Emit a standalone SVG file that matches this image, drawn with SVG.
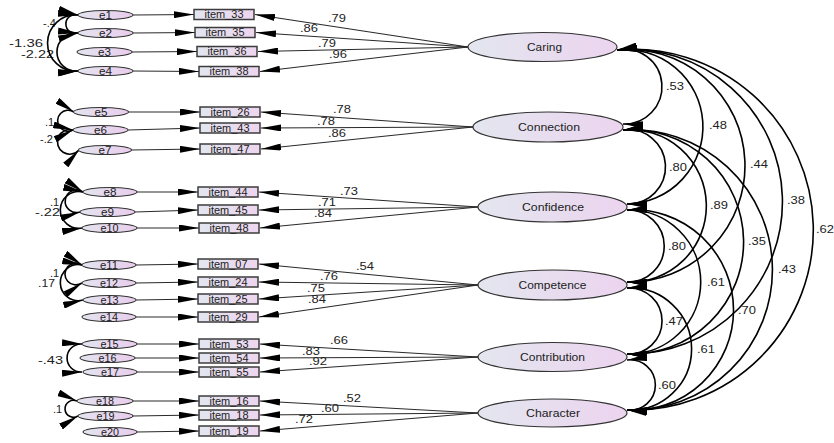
<svg xmlns="http://www.w3.org/2000/svg" width="834" height="443" viewBox="0 0 834 443">
<style>
text{font-family:"Liberation Sans",Arial,sans-serif;fill:#222}
.v{font-size:11px;text-anchor:middle}
.cv{font-size:11px}
.it{font-size:10.5px;text-anchor:middle}
.el{font-size:10.5px;text-anchor:middle}
.lt{font-size:10.5px;text-anchor:middle}
.box{fill:url(#gb);stroke:#3c3c3c;stroke-width:1.5}
.err{fill:url(#ge);stroke:#333;stroke-width:1.1}
.lat{fill:url(#gl);stroke:#333;stroke-width:1.2}
.ld{fill:none;stroke:#2a2a2a;stroke-width:1.2;marker-end:url(#ah)}
.cov{fill:none;stroke:#000;stroke-width:1.6;marker-start:url(#ah);marker-end:url(#ah)}
</style>
<defs>
<linearGradient id="gl" x1="0" y1="0" x2="1" y2="0"><stop offset="0" stop-color="#e3e6ef"/><stop offset="1" stop-color="#ecd4ef"/></linearGradient>
<linearGradient id="gb" x1="0" y1="0" x2="1" y2="0"><stop offset="0" stop-color="#e2e6f0"/><stop offset="1" stop-color="#edd5ee"/></linearGradient>
<linearGradient id="ge" x1="0" y1="0" x2="1" y2="0"><stop offset="0" stop-color="#e3e4f0"/><stop offset="1" stop-color="#e9cdec"/></linearGradient>
<marker id="ah" viewBox="0 0 20 7" refX="20" refY="3.5" markerWidth="20" markerHeight="7" markerUnits="userSpaceOnUse" orient="auto-start-reverse"><path d="M0,0 L20,3.5 L0,7 Z" fill="#000"/></marker>
</defs>
<rect width="834" height="443" fill="#fff"/>

<!-- left covariance labels (partly covered by arrowheads) -->
<g id="error-cov-labels">
<text class="cv" x="43" y="26.5">-.4</text>
<text class="cv" x="9" y="47" textLength="34" lengthAdjust="spacingAndGlyphs">-1.36</text>
<text class="cv" x="21" y="58" textLength="33" lengthAdjust="spacingAndGlyphs">-2.22</text>
<text class="cv" x="45" y="125.5">.1</text>
<text class="cv" x="40" y="142.5">-.2</text>
<text class="cv" x="50" y="205.5">.1</text>
<text class="cv" x="35" y="215.5" textLength="25" lengthAdjust="spacingAndGlyphs">-.22</text>
<text class="cv" x="50" y="276.5">.1</text>
<text class="cv" x="38" y="286.5" textLength="17" lengthAdjust="spacingAndGlyphs">.17</text>
<text class="cv" x="38" y="363.5" textLength="25" lengthAdjust="spacingAndGlyphs">-.43</text>
<text class="cv" x="53" y="412.5">.1</text>
</g>

<g id="connectors">
<!-- error -> item -->
<path class="ld" d="M133,15 L194,14.5"/>
<path class="ld" d="M133,33 L195,32.5"/>
<path class="ld" d="M132,52 L197,51.5"/>
<path class="ld" d="M133,71 L199,71.5"/>
<path class="ld" d="M128,112 L200,112"/>
<path class="ld" d="M128,130 L200,128"/>
<path class="ld" d="M131,150 L200,149"/>
<path class="ld" d="M137,192 L198,192"/>
<path class="ld" d="M135,212 L198,210"/>
<path class="ld" d="M137,228 L199,228"/>
<path class="ld" d="M136,265 L198,264"/>
<path class="ld" d="M136,283 L198,282"/>
<path class="ld" d="M136,300 L198,299"/>
<path class="ld" d="M136,317 L198,317"/>
<path class="ld" d="M137,344 L199,344"/>
<path class="ld" d="M135,358 L199,358"/>
<path class="ld" d="M137,372 L199,372"/>
<path class="ld" d="M133,401 L199,401"/>
<path class="ld" d="M133,416 L199,415"/>
<path class="ld" d="M137,432 L199,431"/>
<!-- loadings -->
<path class="ld" d="M468,47 L255,14.5"/>
<path class="ld" d="M468,47 L256,32.5"/>
<path class="ld" d="M468,47 L258,51.5"/>
<path class="ld" d="M468,47 L260,71.5"/>
<path class="ld" d="M473,127 L261,112"/>
<path class="ld" d="M473,127 L261,128"/>
<path class="ld" d="M473,127 L261,149"/>
<path class="ld" d="M478,207 L259,192"/>
<path class="ld" d="M478,207 L259,210"/>
<path class="ld" d="M478,207 L260,228"/>
<path class="ld" d="M478,285 L259,264"/>
<path class="ld" d="M478,285 L259,282"/>
<path class="ld" d="M478,285 L259,299"/>
<path class="ld" d="M478,285 L259,317"/>
<path class="ld" d="M478,357 L260,344"/>
<path class="ld" d="M478,357 L260,358"/>
<path class="ld" d="M478,357 L260,372"/>
<path class="ld" d="M478,413 L260,401"/>
<path class="ld" d="M478,413 L260,415"/>
<path class="ld" d="M478,413 L260,431"/>
<!-- error covariances -->
<path class="cov" d="M78,15 A9.4,9.4 0 1 0 78,33"/>
<path class="cov" d="M78,15 A28.1,28.1 0 1 0 78,71"/>
<path class="cov" d="M78,33 A19.1,19.1 0 1 0 78,71"/>
<path class="cov" d="M74,112 A10.5,10.5 0 1 0 73,130"/>
<path class="cov" d="M73,130 A12.3,12.3 0 1 0 79,150"/>
<path class="cov" d="M83,192 A11.3,11.3 0 1 0 80,212"/>
<path class="cov" d="M83,192 A18.4,18.4 0 1 0 82,228"/>
<path class="cov" d="M82,265 A10.9,10.9 0 1 0 82,283"/>
<path class="cov" d="M82,265 A18,18 0 1 0 83,300"/>
<path class="cov" d="M82,344 A14.03,14.03 0 1 0 82,372"/>
<path class="cov" d="M77,401 A8.5,8.5 0 1 0 78,416"/>
<!-- factor covariances -->
<path class="cov" d="M617,50 A37.4,37.4 0 1 1 623,124"/>
<path class="cov" d="M617,50 A77.25,77.25 0 1 1 627,204"/>
<path class="cov" d="M617,50 A116.3,116.3 0 1 1 627,282"/>
<path class="cov" d="M617,50 A152.3,152.3 0 1 1 627,354"/>
<path class="cov" d="M617,50 A180.4,180.4 0 1 1 627,410"/>
<path class="cov" d="M623,130 A37.2,37.2 0 1 1 627,204"/>
<path class="cov" d="M623,130 A76.2,76.2 0 1 1 627,282"/>
<path class="cov" d="M623,130 A112.2,112.2 0 1 1 627,354"/>
<path class="cov" d="M623,130 A140.2,140.2 0 1 1 627,410"/>
<path class="cov" d="M627,210 A36.02,36.02 0 1 1 627,282"/>
<path class="cov" d="M627,210 A72.02,72.02 0 1 1 627,354"/>
<path class="cov" d="M627,210 A100.2,100.2 0 1 1 627,410"/>
<path class="cov" d="M627,288 A33.06,33.06 0 1 1 627,354"/>
<path class="cov" d="M627,288 A61.1,61.1 0 1 1 627,410"/>
<path class="cov" d="M627,360 A25.2,25.2 0 1 1 627,410"/>
</g>

<!-- error nodes -->
<g id="e1"><ellipse class="err" cx="105.5" cy="15" rx="27.5" ry="4.5"/><text class="el" x="105.5" y="18.5" textLength="13" lengthAdjust="spacingAndGlyphs">e1</text></g>
<g id="e2"><ellipse class="err" cx="105.5" cy="33" rx="27.5" ry="4.5"/><text class="el" x="105.5" y="36.5" textLength="13" lengthAdjust="spacingAndGlyphs">e2</text></g>
<g id="e3"><ellipse class="err" cx="104.5" cy="52" rx="27.5" ry="4.5"/><text class="el" x="104.5" y="55.5" textLength="13" lengthAdjust="spacingAndGlyphs">e3</text></g>
<g id="e4"><ellipse class="err" cx="105.5" cy="71" rx="27.5" ry="4.5"/><text class="el" x="105.5" y="74.5" textLength="13" lengthAdjust="spacingAndGlyphs">e4</text></g>
<g id="e5"><ellipse class="err" cx="101" cy="112" rx="27.5" ry="4.5"/><text class="el" x="101" y="115.5" textLength="13" lengthAdjust="spacingAndGlyphs">e5</text></g>
<g id="e6"><ellipse class="err" cx="100.5" cy="130" rx="27.5" ry="4.5"/><text class="el" x="100.5" y="133.5" textLength="13" lengthAdjust="spacingAndGlyphs">e6</text></g>
<g id="e7"><ellipse class="err" cx="105" cy="150" rx="26.5" ry="4.5"/><text class="el" x="105" y="153.5" textLength="13" lengthAdjust="spacingAndGlyphs">e7</text></g>
<g id="e8"><ellipse class="err" cx="110" cy="192" rx="27" ry="4.5"/><text class="el" x="110" y="195.5" textLength="13" lengthAdjust="spacingAndGlyphs">e8</text></g>
<g id="e9"><ellipse class="err" cx="107.5" cy="212" rx="27.5" ry="4.5"/><text class="el" x="107.5" y="215.5" textLength="13" lengthAdjust="spacingAndGlyphs">e9</text></g>
<g id="e10"><ellipse class="err" cx="109.5" cy="228" rx="27.5" ry="4.5"/><text class="el" x="109.5" y="231.5" textLength="18" lengthAdjust="spacingAndGlyphs">e10</text></g>
<g id="e11"><ellipse class="err" cx="109" cy="265" rx="27" ry="4.5"/><text class="el" x="109" y="268.5" textLength="18" lengthAdjust="spacingAndGlyphs">e11</text></g>
<g id="e12"><ellipse class="err" cx="109" cy="283" rx="27" ry="4.5"/><text class="el" x="109" y="286.5" textLength="18" lengthAdjust="spacingAndGlyphs">e12</text></g>
<g id="e13"><ellipse class="err" cx="109.5" cy="300" rx="26.5" ry="4.5"/><text class="el" x="109.5" y="303.5" textLength="18" lengthAdjust="spacingAndGlyphs">e13</text></g>
<g id="e14"><ellipse class="err" cx="109" cy="317" rx="27" ry="4.5"/><text class="el" x="109" y="320.5" textLength="18" lengthAdjust="spacingAndGlyphs">e14</text></g>
<g id="e15"><ellipse class="err" cx="109.5" cy="344" rx="27.5" ry="4.5"/><text class="el" x="109.5" y="347.5" textLength="18" lengthAdjust="spacingAndGlyphs">e15</text></g>
<g id="e16"><ellipse class="err" cx="107.5" cy="358" rx="27.5" ry="4.5"/><text class="el" x="107.5" y="361.5" textLength="18" lengthAdjust="spacingAndGlyphs">e16</text></g>
<g id="e17"><ellipse class="err" cx="110" cy="372" rx="27" ry="4.5"/><text class="el" x="110" y="375.5" textLength="18" lengthAdjust="spacingAndGlyphs">e17</text></g>
<g id="e18"><ellipse class="err" cx="105" cy="401" rx="28" ry="4.5"/><text class="el" x="105" y="404.5" textLength="18" lengthAdjust="spacingAndGlyphs">e18</text></g>
<g id="e19"><ellipse class="err" cx="105.5" cy="416" rx="27.5" ry="4.5"/><text class="el" x="105.5" y="419.5" textLength="18" lengthAdjust="spacingAndGlyphs">e19</text></g>
<g id="e20"><ellipse class="err" cx="110" cy="432" rx="27" ry="4.5"/><text class="el" x="110" y="435.5" textLength="18" lengthAdjust="spacingAndGlyphs">e20</text></g>

<!-- items -->
<g id="item_33"><rect class="box" x="194" y="9.5" width="60" height="10"/><text class="it" x="224" y="18.3" textLength="39" lengthAdjust="spacingAndGlyphs">item_33</text></g>
<g id="item_35"><rect class="box" x="195" y="27.5" width="60" height="10"/><text class="it" x="225" y="36.3" textLength="39" lengthAdjust="spacingAndGlyphs">item_35</text></g>
<g id="item_36"><rect class="box" x="197" y="46.5" width="60" height="10"/><text class="it" x="227" y="55.3" textLength="39" lengthAdjust="spacingAndGlyphs">item_36</text></g>
<g id="item_38"><rect class="box" x="199" y="66.5" width="60" height="10"/><text class="it" x="229" y="75.3" textLength="39" lengthAdjust="spacingAndGlyphs">item_38</text></g>
<g id="item_26"><rect class="box" x="200" y="107" width="60" height="10"/><text class="it" x="230" y="115.8" textLength="39" lengthAdjust="spacingAndGlyphs">item_26</text></g>
<g id="item_43"><rect class="box" x="200" y="123" width="60" height="10"/><text class="it" x="230" y="131.8" textLength="39" lengthAdjust="spacingAndGlyphs">item_43</text></g>
<g id="item_47"><rect class="box" x="200" y="144" width="60" height="10"/><text class="it" x="230" y="152.8" textLength="39" lengthAdjust="spacingAndGlyphs">item_47</text></g>
<g id="item_44"><rect class="box" x="198" y="187" width="60" height="10"/><text class="it" x="228" y="195.8" textLength="39" lengthAdjust="spacingAndGlyphs">item_44</text></g>
<g id="item_45"><rect class="box" x="198" y="205" width="60" height="10"/><text class="it" x="228" y="213.8" textLength="39" lengthAdjust="spacingAndGlyphs">item_45</text></g>
<g id="item_48"><rect class="box" x="199" y="223" width="60" height="10"/><text class="it" x="229" y="231.8" textLength="39" lengthAdjust="spacingAndGlyphs">item_48</text></g>
<g id="item_07"><rect class="box" x="198" y="259" width="60" height="10"/><text class="it" x="228" y="267.8" textLength="39" lengthAdjust="spacingAndGlyphs">item_07</text></g>
<g id="item_24"><rect class="box" x="198" y="277" width="60" height="10"/><text class="it" x="228" y="285.8" textLength="39" lengthAdjust="spacingAndGlyphs">item_24</text></g>
<g id="item_25"><rect class="box" x="198" y="294" width="60" height="10"/><text class="it" x="228" y="302.8" textLength="39" lengthAdjust="spacingAndGlyphs">item_25</text></g>
<g id="item_29"><rect class="box" x="198" y="312" width="60" height="10"/><text class="it" x="228" y="320.8" textLength="39" lengthAdjust="spacingAndGlyphs">item_29</text></g>
<g id="item_53"><rect class="box" x="199" y="339" width="60" height="10"/><text class="it" x="229" y="347.8" textLength="39" lengthAdjust="spacingAndGlyphs">item_53</text></g>
<g id="item_54"><rect class="box" x="199" y="353" width="60" height="10"/><text class="it" x="229" y="361.8" textLength="39" lengthAdjust="spacingAndGlyphs">item_54</text></g>
<g id="item_55"><rect class="box" x="199" y="367" width="60" height="10"/><text class="it" x="229" y="375.8" textLength="39" lengthAdjust="spacingAndGlyphs">item_55</text></g>
<g id="item_16"><rect class="box" x="199" y="396" width="60" height="10"/><text class="it" x="229" y="404.8" textLength="39" lengthAdjust="spacingAndGlyphs">item_16</text></g>
<g id="item_18"><rect class="box" x="199" y="410" width="60" height="10"/><text class="it" x="229" y="418.8" textLength="39" lengthAdjust="spacingAndGlyphs">item_18</text></g>
<g id="item_19"><rect class="box" x="199" y="426" width="60" height="10"/><text class="it" x="229" y="434.8" textLength="39" lengthAdjust="spacingAndGlyphs">item_19</text></g>

<!-- latent factors -->
<g id="Caring"><ellipse class="lat" cx="542.5" cy="47" rx="74.5" ry="14.5"/><text class="lt" x="544.5" y="51" textLength="35" lengthAdjust="spacingAndGlyphs">Caring</text></g>
<g id="Connection"><ellipse class="lat" cx="548" cy="127" rx="75" ry="15"/><text class="lt" x="549" y="131" textLength="62" lengthAdjust="spacingAndGlyphs">Connection</text></g>
<g id="Confidence"><ellipse class="lat" cx="552.5" cy="207" rx="74.5" ry="15"/><text class="lt" x="553" y="211" textLength="62" lengthAdjust="spacingAndGlyphs">Confidence</text></g>
<g id="Competence"><ellipse class="lat" cx="552.5" cy="285" rx="74.5" ry="15"/><text class="lt" x="552.5" y="289" textLength="68" lengthAdjust="spacingAndGlyphs">Competence</text></g>
<g id="Contribution"><ellipse class="lat" cx="552.5" cy="357" rx="74.5" ry="14.5"/><text class="lt" x="552.5" y="361" textLength="65" lengthAdjust="spacingAndGlyphs">Contribution</text></g>
<g id="Character"><ellipse class="lat" cx="552.5" cy="413" rx="74.5" ry="14"/><text class="lt" x="553" y="417" textLength="54" lengthAdjust="spacingAndGlyphs">Character</text></g>

<!-- loading labels -->
<g id="loading-labels">
<text class="v" x="337" y="21.5" textLength="18" lengthAdjust="spacingAndGlyphs">.79</text>
<text class="v" x="309" y="31.5" textLength="18" lengthAdjust="spacingAndGlyphs">.86</text>
<text class="v" x="327" y="46.5" textLength="18" lengthAdjust="spacingAndGlyphs">.79</text>
<text class="v" x="338" y="57.5" textLength="18" lengthAdjust="spacingAndGlyphs">.96</text>
<text class="v" x="342" y="112.5" textLength="18" lengthAdjust="spacingAndGlyphs">.78</text>
<text class="v" x="326" y="124.5" textLength="18" lengthAdjust="spacingAndGlyphs">.78</text>
<text class="v" x="337" y="136.5" textLength="18" lengthAdjust="spacingAndGlyphs">.86</text>
<text class="v" x="349" y="194.5" textLength="18" lengthAdjust="spacingAndGlyphs">.73</text>
<text class="v" x="327" y="205.5" textLength="18" lengthAdjust="spacingAndGlyphs">.71</text>
<text class="v" x="323" y="216.5" textLength="18" lengthAdjust="spacingAndGlyphs">.84</text>
<text class="v" x="365" y="269.5" textLength="18" lengthAdjust="spacingAndGlyphs">.54</text>
<text class="v" x="329" y="279.5" textLength="18" lengthAdjust="spacingAndGlyphs">.76</text>
<text class="v" x="316" y="291.5" textLength="18" lengthAdjust="spacingAndGlyphs">.75</text>
<text class="v" x="317" y="302.5" textLength="18" lengthAdjust="spacingAndGlyphs">.84</text>
<text class="v" x="339" y="343.5" textLength="18" lengthAdjust="spacingAndGlyphs">.66</text>
<text class="v" x="311" y="354.5" textLength="18" lengthAdjust="spacingAndGlyphs">.83</text>
<text class="v" x="318" y="364.5" textLength="18" lengthAdjust="spacingAndGlyphs">.92</text>
<text class="v" x="352" y="401.5" textLength="18" lengthAdjust="spacingAndGlyphs">.52</text>
<text class="v" x="330" y="411.5" textLength="18" lengthAdjust="spacingAndGlyphs">.60</text>
<text class="v" x="304" y="422.5" textLength="18" lengthAdjust="spacingAndGlyphs">.72</text>
</g>

<!-- factor covariance labels -->
<g id="factor-cov-labels">
<text class="v" x="675" y="89.5" textLength="18" lengthAdjust="spacingAndGlyphs">.53</text>
<text class="v" x="718" y="128.5" textLength="18" lengthAdjust="spacingAndGlyphs">.48</text>
<text class="v" x="759" y="167.5" textLength="18" lengthAdjust="spacingAndGlyphs">.44</text>
<text class="v" x="796" y="203.5" textLength="18" lengthAdjust="spacingAndGlyphs">.38</text>
<text class="v" x="825" y="232.5" textLength="18" lengthAdjust="spacingAndGlyphs">.62</text>
<text class="v" x="678" y="170.5" textLength="18" lengthAdjust="spacingAndGlyphs">.80</text>
<text class="v" x="719" y="208.5" textLength="18" lengthAdjust="spacingAndGlyphs">.89</text>
<text class="v" x="757" y="244.5" textLength="18" lengthAdjust="spacingAndGlyphs">.35</text>
<text class="v" x="787" y="272.5" textLength="18" lengthAdjust="spacingAndGlyphs">.43</text>
<text class="v" x="677" y="249.5" textLength="18" lengthAdjust="spacingAndGlyphs">.80</text>
<text class="v" x="716" y="285.5" textLength="18" lengthAdjust="spacingAndGlyphs">.61</text>
<text class="v" x="747" y="313.5" textLength="18" lengthAdjust="spacingAndGlyphs">.70</text>
<text class="v" x="674" y="324.5" textLength="18" lengthAdjust="spacingAndGlyphs">.47</text>
<text class="v" x="706" y="352.5" textLength="18" lengthAdjust="spacingAndGlyphs">.61</text>
<text class="v" x="667" y="388.5" textLength="18" lengthAdjust="spacingAndGlyphs">.60</text>
</g>
</svg>
